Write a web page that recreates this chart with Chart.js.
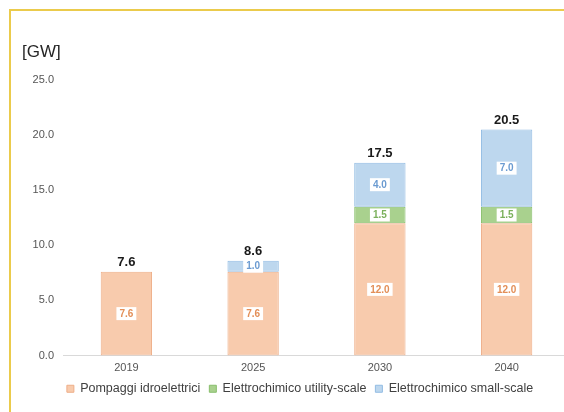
<!DOCTYPE html>
<html>
<head>
<meta charset="utf-8">
<script src="https://cdn.jsdelivr.net/npm/chart.js@4"></script>
<style>
  body { margin: 0; width: 564px; height: 412px; overflow: hidden; background: #fff; position: relative; }
  canvas { position: absolute; left: 0; top: 0; }
  #frame { position: absolute; left: 9px; top: 9px; width: 600px; height: 450px;
           border-top: 2px solid #ebcb4c; border-left: 2px solid #ebcb4c; pointer-events: none; }
</style>
</head>
<body>
<canvas id="storage" width="575" height="412"></canvas>
<div id="frame"></div>
<script>
'use strict'

var years = ['2019', '2025', '2030', '2040'];
var pompaggi = [7.6, 7.6, 12.0, 12.0];
var utilityScale = [0, 0, 1.5, 1.5];
var smallScale = [0, 1.0, 4.0, 7.0];
var yTicks = [0, 5, 10, 15, 20, 25];

var totals = years.map(function (y, i) {
  return pompaggi[i] + utilityScale[i] + smallScale[i];
});

Chart.defaults.font.family = '"Liberation Sans", Arial, sans-serif';

// numbers inside each segment, totals on top, unit label
var valueLabels = {
  id: 'valueLabels',
  afterDatasetsDraw: function (chart) {
    var ctx = chart.ctx;
    ctx.save();
    ctx.textAlign = 'center';
    ctx.textBaseline = 'middle';
    chart.data.datasets.forEach(function (ds, d) {
      var meta = chart.getDatasetMeta(d);
      meta.data.forEach(function (bar, i) {
        var v = ds.data[i];
        if (!v) return;
        var txt = v.toFixed(1);
        var y = (bar.y + bar.base) / 2;
        ctx.font = 'bold 10px "Liberation Sans"';
        var w = ctx.measureText(txt).width + 6;
        ctx.fillStyle = '#fff';
        ctx.fillRect(bar.x - w / 2, y - 6.5, w, 13);
        ctx.fillStyle = ds.labelColor;
        ctx.fillText(txt, bar.x, y + 0.5);
      });
    });

    var xs = chart.scales.x, ys = chart.scales.y;
    ctx.font = 'bold 13px "Liberation Sans"';
    ctx.fillStyle = '#1a1a1a';
    ctx.textBaseline = 'bottom';
    totals.forEach(function (t, i) {
      ctx.fillText(t.toFixed(1), xs.getPixelForValue(i), ys.getPixelForValue(t) - 3);
    });

    ctx.font = '17px "Liberation Sans"';
    ctx.fillStyle = '#262626';
    ctx.textAlign = 'left';
    ctx.textBaseline = 'middle';
    ctx.fillText('[GW]', 22, 52);
    ctx.restore();
  }
};

new Chart(document.getElementById('storage'), {
  type: 'bar',
  data: {
    labels: years,
    datasets: [{
      label: 'Pompaggi idroelettrici',
      data: pompaggi,
      backgroundColor: '#f8cbad',
      borderColor: '#eeae88',
      labelColor: '#e38f58'
    }, {
      label: 'Elettrochimico utility-scale',
      data: utilityScale,
      backgroundColor: '#a9d18e',
      borderColor: '#88bf6c',
      labelColor: '#7bb05c'
    }, {
      label: 'Elettrochimico small-scale',
      data: smallScale,
      backgroundColor: '#bdd7ee',
      borderColor: '#92bce3',
      labelColor: '#6b9bd1'
    }]
  },
  options: {
    responsive: false,
    animation: false,
    layout: { padding: { left: 30, right: 5, top: 80, bottom: 7 } },
    datasets: {
      bar: {
        borderWidth: 1,
        borderSkipped: false,
        categoryPercentage: 1,
        barPercentage: 0.405
      }
    },
    plugins: {
      tooltip: { enabled: false },
      legend: {
        position: 'bottom',
        labels: {
          boxWidth: 7,
          boxHeight: 7,
          padding: 9,
          color: '#404040',
          font: { size: 12.5 }
        }
      }
    },
    scales: {
      x: {
        stacked: true,
        grid: { display: false, drawTicks: false },
        border: { display: true, color: '#d9d9d9' },
        afterFit: function (scale) { scale.height = 18; },
        ticks: { padding: 6, color: '#555', font: { size: 11 } }
      },
      y: {
        stacked: true,
        min: 0,
        max: 25,
        grid: { display: false, drawTicks: false },
        border: { display: false },
        afterFit: function (scale) { scale.width = 33; },
        afterBuildTicks: function (scale) {
          scale.ticks = yTicks.map(function (v) { return { value: v }; });
        },
        ticks: {
          padding: 9,
          color: '#555',
          font: { size: 11 },
          callback: function (v) { return v.toFixed(1); }
        }
      }
    }
  },
  plugins: [valueLabels]
});
</script>
</body>
</html>
